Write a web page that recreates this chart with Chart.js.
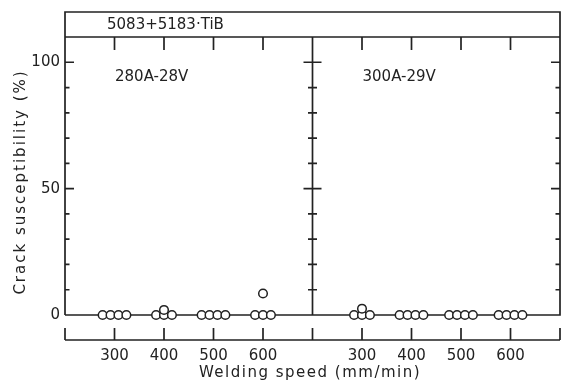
<!DOCTYPE html>
<html>
<head>
<meta charset="utf-8">
<script src="https://cdn.jsdelivr.net/npm/chart.js@4.4.1/dist/chart.umd.min.js"></script>
<style>
  html, body { margin: 0; background: #fff; }
  #wrap { width: 569px; height: 383px; }
</style>
</head>
<body>
<div id="wrap"><canvas id="c"></canvas></div>
<script>
const speeds = [300, 400, 500, 600];
const speedTicks = [200, 300, 400, 500, 600, 700];
const yLabels = [0, 50, 100];
const alloy = '5083+5183·TiB';
const panels = ['280A-28V', '300A-29V'];
// crack susceptibility (%) of each test bead, one list per welding speed
const crack280 = [[0, 0, 0, 0], [0, 0, 0, 2], [0, 0, 0, 0], [0, 0, 0, 8.5]];
const crack300 = [[0, 0, 0, 2.5], [0, 0, 0, 0], [0, 0, 0, 0], [0, 0, 0, 0]];

const ink = '#222';
const font = { family: 'DejaVu Sans', size: 15 };

// beads sitting at 0 are spread side by side around their speed, like in the figure
function toPoints(groups) {
    const pts = [];
    groups.forEach((vals, i) => {
        const zeros = vals.filter(v => v === 0).length;
        let k = 0;
        vals.forEach(v => {
            if (v === 0) {
                pts.push({ x: speeds[i] + (k - (zeros - 1) / 2) * 16, y: v });
                k++;
            } else {
                pts.push({ x: speeds[i], y: v });
            }
        });
    });
    return pts;
}

function speedAxis() {
    return {
        type: 'linear',
        position: 'bottom',
        stack: 'speed',
        stackWeight: 1,
        min: 200,
        max: 700,
        afterBuildTicks: s => { s.ticks = speedTicks.map(v => ({ value: v })); },
        afterFit: s => { s.height = 68; s.paddingLeft = 0; s.paddingRight = 0; },
        grid: { display: false, drawTicks: false },
        border: { display: false },
        ticks: {
            autoSkip: false,
            maxRotation: 0,
            padding: 32,
            color: ink,
            font: font,
            callback: v => speeds.includes(v) ? v : ''
        }
    };
}

const framePlugin = {
    id: 'frame',
    beforeDatasetsDraw(chart) {
        const { ctx, chartArea: a, scales } = chart;
        const { xL, xR, y } = scales;
        const headTop = a.top - 25;
        const mid = xL.right;
        ctx.save();
        ctx.strokeStyle = ink;
        ctx.lineWidth = 1.7;
        ctx.beginPath();
        ctx.moveTo(a.left, a.bottom);
        ctx.lineTo(a.left, headTop);
        ctx.lineTo(a.right, headTop);
        ctx.lineTo(a.right, a.bottom);
        ctx.lineTo(a.left, a.bottom);
        ctx.moveTo(a.left, a.top);
        ctx.lineTo(a.right, a.top);
        ctx.moveTo(mid, a.top);
        ctx.lineTo(mid, a.bottom);

        // ticks hanging from the header line
        [xL, xR].forEach(s => {
            speeds.forEach(v => {
                const px = s.getPixelForValue(v);
                ctx.moveTo(px, a.top);
                ctx.lineTo(px, a.top + 13);
            });
        });

        // y ticks on the left, middle and right frame lines
        y.ticks.forEach(t => {
            if (t.value <= 0 || t.value >= 110) return;
            const py = y.getPixelForValue(t.value);
            const len = t.value % 50 === 0 ? 9 : 4.5;
            ctx.moveTo(a.left, py);
            ctx.lineTo(a.left + len, py);
            ctx.moveTo(a.right - len, py);
            ctx.lineTo(a.right, py);
            ctx.moveTo(mid - len, py);
            ctx.lineTo(mid + len, py);
        });

        // separate speed axis under the plot
        const yb = a.bottom + 25;
        ctx.moveTo(a.left, yb);
        ctx.lineTo(a.right, yb);
        [xL, xR].forEach(s => {
            speedTicks.forEach(v => {
                const px = s.getPixelForValue(v);
                ctx.moveTo(px, yb);
                ctx.lineTo(px, yb - 12);
            });
        });
        ctx.stroke();

        ctx.fillStyle = ink;
        ctx.font = '15px "DejaVu Sans"';
        ctx.textBaseline = 'middle';
        ctx.textAlign = 'left';
        ctx.fillText(alloy, a.left + 42, headTop + 13);
        ctx.fillText(panels[0], xL.left + 50, a.top + 40);
        ctx.fillText(panels[1], xR.left + 50, a.top + 40);

        ctx.textAlign = 'center';
        ctx.letterSpacing = '1.5px';
        ctx.fillText('Welding speed (mm/min)', 310, 373);
        ctx.letterSpacing = '2px';
        ctx.translate(21, 182);
        ctx.rotate(-Math.PI / 2);
        ctx.fillText('Crack susceptibility (%)', 0, 0);
        ctx.restore();
    }
};

const beadStyle = {
    pointRadius: 4.3,
    pointBackgroundColor: '#fff',
    pointBorderColor: ink,
    pointBorderWidth: 1.5,
    showLine: false,
    clip: false
};

new Chart(document.getElementById('c'), {
    type: 'scatter',
    data: {
        datasets: [
            Object.assign({ label: panels[0], data: toPoints(crack280), xAxisID: 'xL' }, beadStyle),
            Object.assign({ label: panels[1], data: toPoints(crack300), xAxisID: 'xR' }, beadStyle)
        ]
    },
    options: {
        responsive: true,
        maintainAspectRatio: false,
        animation: false,
        layout: { padding: { top: 37, right: 9, left: 0, bottom: 0 } },
        plugins: { legend: { display: false }, tooltip: { enabled: false } },
        scales: {
            xL: speedAxis(),
            xR: speedAxis(),
            y: {
                min: 0,
                max: 110,
                afterFit: s => { s.width = 65; s.paddingTop = 0; s.paddingBottom = 0; },
                grid: { display: false, drawTicks: false },
                border: { display: false },
                ticks: {
                    stepSize: 10,
                    padding: 5,
                    color: ink,
                    font: font,
                    callback: v => yLabels.includes(v) ? v : ''
                }
            }
        }
    },
    plugins: [framePlugin]
});
</script>
</body>
</html>
